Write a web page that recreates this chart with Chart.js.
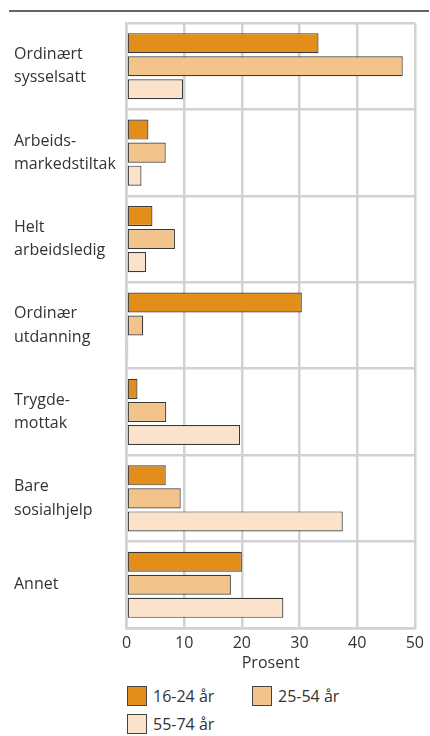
<!DOCTYPE html>
<html lang="no">
<head>
    <meta charset="UTF-8">
    <title>Prosent etter aldersgruppe</title>
    <script src="https://cdn.jsdelivr.net/npm/chart.js"></script>
    <style>
        body { margin: 0; background: #fff; font-family: "Open Sans", sans-serif; color: #333; }
        #wrap { position: relative; width: 430px; height: 736px; }
        #rule { position: absolute; left: 9px; top: 10px; width: 420px; height: 2px; background: #666; }
        #chartBox { position: absolute; left: 0; top: 0; width: 430px; height: 673px; }
        .legend { position: absolute; font-size: 16px; line-height: 20px; }
        .legend span.box { position: absolute; width: 18px; height: 18px; border: 1px solid #444; }
        .legend span.txt { position: absolute; white-space: nowrap; }
    </style>
</head>
<body>
<div id="wrap">
    <div id="rule"></div>
    <div id="chartBox"><canvas id="barChart"></canvas></div>
    <div id="legend"></div>
</div>

<script>
    // Data
    const categories = [
        ['Ordinært', 'sysselsatt'],
        ['Arbeids-', 'markedstiltak'],
        ['Helt', 'arbeidsledig'],
        ['Ordinær', 'utdanning'],
        ['Trygde-', 'mottak'],
        ['Bare', 'sosialhjelp'],
        ['Annet']
    ];
    const seriesNames = ['16-24 år', '25-54 år', '55-74 år'];
    const age16to24 = [33.3, 3.8, 4.5, 30.4, 1.9, 6.8, 20.0];
    const age25to54 = [47.9, 6.8, 8.4, 2.9, 6.9, 9.4, 18.1];
    const age55to74 = [9.8, 2.6, 3.4, 0.3, 19.7, 37.5, 27.2];
    const xTicks = [0, 10, 20, 30, 40, 50];
    const colors = ['#e38d1b', '#f2c38b', '#fae3ca'];

    const ctx = document.getElementById('barChart').getContext('2d');
    new Chart(ctx, {
        type: 'bar',
        data: {
            labels: categories,
            datasets: [age16to24, age25to54, age55to74].map((vals, i) => ({
                label: seriesNames[i],
                data: vals,
                backgroundColor: colors[i],
                borderColor: '#3a3a3a',
                borderWidth: 1.2,
                borderSkipped: false,
                categoryPercentage: 0.8,
                barPercentage: 0.87
            }))
        },
        options: {
            indexAxis: 'y',
            responsive: true,
            maintainAspectRatio: false,
            animation: false,
            layout: { padding: { left: 14, right: 12, top: 23, bottom: 0 } },
            plugins: {
                legend: { display: false },
                tooltip: { enabled: false }
            },
            scales: {
                x: {
                    min: 0,
                    max: 50,
                    afterBuildTicks: scale => { scale.ticks = xTicks.map(v => ({ value: v })); },
                    afterFit: scale => { scale.height = 45; },
                    grid: { color: '#d2d2d2', lineWidth: 2.5, drawTicks: false },
                    border: { color: '#d2d2d2', width: 2.5 },
                    ticks: {
                        padding: 6,
                        color: '#333',
                        font: { family: 'Open Sans', size: 16 }
                    },
                    title: {
                        display: true,
                        text: 'Prosent',
                        color: '#333',
                        padding: { top: 0, bottom: 0 },
                        font: { family: 'Open Sans', size: 16 }
                    }
                },
                y: {
                    afterFit: scale => { scale.width = 112.5; },
                    grid: { color: '#d2d2d2', lineWidth: 2.5, drawTicks: false, offset: true },
                    border: { color: '#d2d2d2', width: 2.5 },
                    ticks: {
                        crossAlign: 'far',
                        padding: 4,
                        color: '#333',
                        font: { family: 'Open Sans', size: 16, lineHeight: 1.45 }
                    }
                }
            }
        }
    });

    // Legend (HTML)
    const legendPos = [[127, 686], [252, 686], [127, 714]];
    const legend = document.getElementById('legend');
    seriesNames.forEach((name, i) => {
        const item = document.createElement('div');
        item.className = 'legend';
        item.style.left = legendPos[i][0] + 'px';
        item.style.top = legendPos[i][1] + 'px';
        item.innerHTML = '<span class="box" style="background:' + colors[i] + '"></span>' +
            '<span class="txt" style="left:26px; top:0px">' + name + '</span>';
        legend.appendChild(item);
    });
</script>
</body>
</html>
